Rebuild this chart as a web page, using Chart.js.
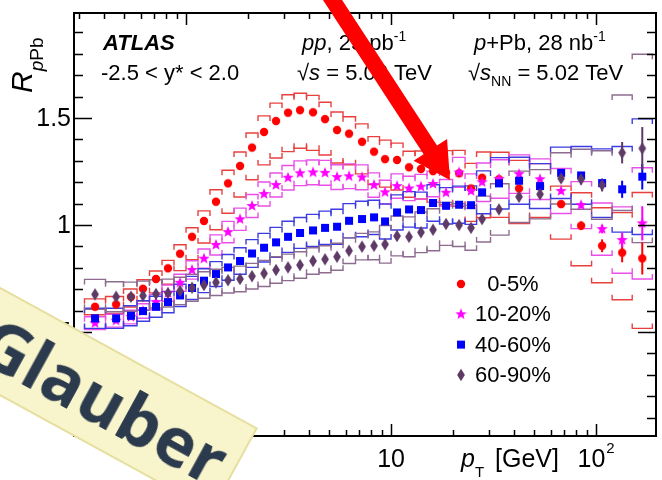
<!DOCTYPE html>
<html>
<head>
<meta charset="utf-8">
<script src="https://cdn.jsdelivr.net/npm/chart.js@4.4.1/dist/chart.umd.min.js"></script>
<style>
  body { margin: 0; background: #fff; }
  #wrap { position: relative; width: 662px; height: 480px; overflow: hidden; }
  #note {
    position: absolute; left: -42px; top: 428px; width: 300px; height: 96px;
    box-sizing: border-box; background: #f8f4cb; border: 2px solid #e7df9f;
    transform-origin: top right; transform: rotate(28.7deg);
    display: flex; align-items: center; justify-content: center;
    padding-left: 4px;
    font: bold 68px "Open Sans", "DejaVu Sans", sans-serif; color: #2b3a4c;
  }
</style>
</head>
<body>
<div id="wrap">
  <canvas id="rppb" width="662" height="480"></canvas>
  <div id="note">Glauber</div>
</div>
<script>
// pT bin centres [GeV]
const ptBins = [0.36, 0.456, 0.539, 0.617, 0.714, 0.817, 0.935, 1.07, 1.224, 1.40,
  1.603, 1.834, 2.099, 2.402, 2.748, 3.145, 3.598, 4.165, 4.765, 5.452,
  6.239, 7.219, 8.26, 9.35, 10.7, 12.24, 14.0, 16.03, 18.55, 21.47,
  24.56, 27.8, 33.6, 42.1, 53.3, 67.5, 84.5, 107, 134, 168];

// R_pPb per centrality class
const r0_5 = [0.618, 0.629, 0.664, 0.702, 0.748, 0.798, 0.866, 0.945, 1.019, 1.109,
  1.195, 1.276, 1.362, 1.435, 1.486, 1.525, 1.537, 1.527, 1.495, 1.444,
  1.427, 1.389, 1.343, 1.308, 1.304, 1.270, 1.262, 1.252, 1.245, 1.242,
  1.171, 1.221, 1.214, 1.171, 1.180, 1.098, 0.997, 0.903, 0.871, 0.844];
const r10_20 = [0.541, 0.553, 0.570, 0.598, 0.640, 0.682, 0.730, 0.790, 0.843, 0.907,
  0.967, 1.027, 1.089, 1.145, 1.187, 1.221, 1.242, 1.246, 1.244, 1.224,
  1.228, 1.223, 1.187, 1.153, 1.182, 1.171, 1.179, 1.192, 1.151, 1.246,
  1.159, 1.200, 1.215, 1.238, 1.214, 1.159, 1.093, 0.981, 0.930, 1.008];
const r40_60 = [0.564, 0.564, 0.576, 0.598, 0.618, 0.640, 0.671, 0.706, 0.740, 0.771,
  0.802, 0.832, 0.867, 0.894, 0.919, 0.945, 0.963, 0.975, 0.987, 0.992,
  1.020, 1.028, 1.036, 1.017, 1.059, 1.073, 1.070, 1.103, 1.090, 1.095,
  1.093, 1.153, 1.195, 1.207, 1.182, 1.244, 1.232, 1.196, 1.167, 1.226];
const r60_90 = [0.676, 0.665, 0.665, 0.670, 0.678, 0.682, 0.692, 0.707, 0.720, 0.732,
  0.742, 0.748, 0.761, 0.774, 0.790, 0.802, 0.813, 0.832, 0.840, 0.852,
  0.880, 0.899, 0.903, 0.910, 0.949, 0.945, 0.966, 0.978, 1.005, 1.000,
  0.987, 1.028, 1.073, 1.132, 1.144, 1.218, 1.214, 1.187, 1.338, 1.358];

// systematic uncertainties (brackets), up / down
const sysUp0_5 = [0.037, 0.037, 0.037, 0.042, 0.037, 0.037, 0.042, 0.042, 0.047, 0.056,
  0.061, 0.065, 0.068, 0.075, 0.084, 0.084, 0.079, 0.079, 0.079, 0.084,
  0.079, 0.084, 0.070, 0.089, 0.079, 0.075, 0.084, 0.093, 0.103, 0.107,
  0.117, 0.120, 0.126, 0.131, 0.107, 0.084, 0.154, 0.178, 0.187, 0.308];
const sysDn0_5 = [0.037, 0.042, 0.047, 0.056, 0.065, 0.075, 0.079, 0.107, 0.103, 0.131,
  0.140, 0.145, 0.150, 0.154, 0.173, 0.182, 0.178, 0.178, 0.168, 0.154,
  0.145, 0.150, 0.154, 0.131, 0.140, 0.140, 0.140, 0.145, 0.150, 0.154,
  0.154, 0.187, 0.178, 0.164, 0.145, 0.164, 0.187, 0.173, 0.220, 0.327];
const sys10_20 = [0.030, 0.030, 0.032, 0.034, 0.036, 0.038, 0.040, 0.043, 0.045, 0.047,
  0.050, 0.052, 0.054, 0.056, 0.056, 0.057, 0.058, 0.058, 0.058, 0.058,
  0.058, 0.058, 0.057, 0.056, 0.057, 0.057, 0.058, 0.060, 0.062, 0.070,
  0.080, 0.090, 0.090, 0.090, 0.095, 0.105, 0.110, 0.122, 0.155, 0.260];
const sys40_60 = [0.047, 0.047, 0.047, 0.048, 0.049, 0.050, 0.052, 0.054, 0.056, 0.058,
  0.060, 0.062, 0.065, 0.067, 0.070, 0.073, 0.072, 0.075, 0.078, 0.082,
  0.080, 0.083, 0.080, 0.082, 0.082, 0.083, 0.084, 0.085, 0.085, 0.087,
  0.090, 0.100, 0.120, 0.110, 0.105, 0.120, 0.135, 0.160, 0.200, 0.270];
const sys60_90 = [0.070, 0.070, 0.068, 0.068, 0.066, 0.065, 0.064, 0.063, 0.062, 0.061,
  0.060, 0.060, 0.060, 0.061, 0.062, 0.062, 0.062, 0.062, 0.063, 0.063,
  0.060, 0.062, 0.065, 0.088, 0.093, 0.093, 0.095, 0.098, 0.100, 0.100,
  0.105, 0.107, 0.120, 0.120, 0.115, 0.120, 0.140, 0.160, 0.270, 0.440];

// statistical uncertainties (vertical bars)
const stat0_5 = [0, 0, 0, 0, 0, 0, 0, 0, 0, 0, 0, 0, 0, 0, 0, 0, 0, 0, 0, 0,
  0, 0, 0, 0, 0, 0, 0, 0, 0, 0, 0, 0, 0, 0.008, 0.008, 0.012, 0.020, 0.030, 0.045, 0.075];
const stat10_20 = [0, 0, 0, 0, 0, 0, 0, 0, 0, 0, 0, 0, 0, 0, 0, 0, 0, 0, 0, 0,
  0, 0, 0, 0, 0, 0, 0, 0, 0, 0, 0, 0, 0, 0, 0.006, 0.012, 0.015, 0.020, 0.035, 0.080];
const stat40_60 = [0, 0, 0, 0, 0, 0, 0, 0, 0, 0, 0, 0, 0, 0, 0, 0, 0, 0, 0, 0,
  0, 0, 0, 0, 0, 0, 0, 0, 0, 0, 0, 0, 0, 0, 0.008, 0.010, 0.015, 0.020, 0.040, 0.060];
const stat60_90 = [0, 0, 0, 0, 0, 0, 0, 0, 0, 0, 0, 0, 0, 0, 0, 0, 0, 0, 0, 0,
  0, 0, 0, 0, 0, 0, 0, 0, 0, 0, 0, 0, 0, 0, 0.010, 0.020, 0.025, 0.030, 0.050, 0.100];

const centLabels = ['0-5%', '10-20%', '40-60%', '60-90%'];
const yTicks = [0.5, 1, 1.5];
const yTickLabels = ['0.5', '1', '1.5'];
const xTicks = [1, 10, 100];
const xTickLabels = [['1', ''], ['10', ''], ['10', '2']];

// marker pictures
function makeMarker(kind, color) {
  const c = document.createElement('canvas');
  c.width = 14; c.height = 14;
  const g = c.getContext('2d');
  g.fillStyle = color;
  g.translate(7, 7);
  g.beginPath();
  if (kind === 'circle') g.arc(0, 0, 4.2, 0, 2 * Math.PI);
  else if (kind === 'square') g.rect(-4, -4, 8, 8);
  else if (kind === 'diamond') { g.moveTo(0, -6.2); g.lineTo(3.9, 0); g.lineTo(0, 6.2); g.lineTo(-3.9, 0); g.closePath(); }
  else {
    for (let k = 0; k < 10; k++) {
      const r = k % 2 ? 2.5 : 6;
      const a = -Math.PI / 2 + k * Math.PI / 5;
      g.lineTo(r * Math.cos(a), r * Math.sin(a));
    }
    g.closePath();
  }
  g.fill();
  return c;
}

const series = [
  { label: centLabels[0], y: r0_5, up: sysUp0_5, dn: sysDn0_5, stat: stat0_5, color: '#ff0000', sysColor: '#e8403f', marker: makeMarker('circle', '#ff0000') },
  { label: centLabels[1], y: r10_20, up: sys10_20, dn: sys10_20, stat: stat10_20, color: '#ff00ff', sysColor: '#e850e8', marker: makeMarker('star', '#ff00ff') },
  { label: centLabels[2], y: r40_60, up: sys40_60, dn: sys40_60, stat: stat40_60, color: '#0000ff', sysColor: '#3c3ce0', marker: makeMarker('square', '#0000ff') },
  { label: centLabels[3], y: r60_90, up: sys60_90, dn: sys60_90, stat: stat60_90, color: '#5e3a66', sysColor: '#8d6c90', marker: makeMarker('diamond', '#5e3a66') }
];

// bin edges: geometric midpoints between centres
const edges = [ptBins[0] / Math.sqrt(ptBins[1] / ptBins[0])];
for (let i = 0; i < ptBins.length - 1; i++) edges.push(Math.sqrt(ptBins[i] * ptBins[i + 1]));
edges.push(ptBins[ptBins.length - 1] * Math.sqrt(ptBins[ptBins.length - 1] / ptBins[ptBins.length - 2]));

const FONT = '"Liberation Sans", Arial, sans-serif';

function richText(ctx, x, y, parts) {
  parts.forEach(p => {
    ctx.font = p.font;
    ctx.fillText(p.t, x, y + (p.dy || 0));
    x += ctx.measureText(p.t).width + (p.gap || 0);
  });
}

const rootStyle = {
  id: 'rootStyle',
  beforeDatasetsDraw(chart) {
    const { ctx, chartArea: a, scales: { x, y } } = chart;
    ctx.save();
    ctx.beginPath();
    ctx.rect(a.left, a.top, a.right - a.left, a.bottom - a.top);
    ctx.clip();
    ctx.lineWidth = 1.4;
    series.forEach(s => {
      ctx.strokeStyle = s.sysColor;
      s.y.forEach((v, i) => {
        const xl = x.getPixelForValue(edges[i]), xr = x.getPixelForValue(edges[i + 1]);
        const yu = y.getPixelForValue(v + s.up[i]), yd = y.getPixelForValue(v - s.dn[i]);
        ctx.beginPath();
        ctx.moveTo(xl, yu + 5); ctx.lineTo(xl, yu); ctx.lineTo(xr, yu); ctx.lineTo(xr, yu + 5);
        ctx.moveTo(xl, yd - 5); ctx.lineTo(xl, yd); ctx.lineTo(xr, yd); ctx.lineTo(xr, yd - 5);
        ctx.stroke();
      });
    });
    ctx.lineWidth = 2;
    series.forEach(s => {
      ctx.strokeStyle = s.color;
      s.y.forEach((v, i) => {
        if (!s.stat[i]) return;
        const px = x.getPixelForValue(ptBins[i]);
        ctx.beginPath();
        ctx.moveTo(px, y.getPixelForValue(v + s.stat[i]));
        ctx.lineTo(px, y.getPixelForValue(v - s.stat[i]));
        ctx.stroke();
      });
    });
    ctx.restore();
  },
  afterDatasetsDraw(chart) {
    const { ctx, chartArea: a, scales: { x, y } } = chart;
    ctx.save();
    ctx.strokeStyle = '#000';
    ctx.fillStyle = '#000';
    // frame
    ctx.lineWidth = 2;
    ctx.strokeRect(a.left, a.top, a.right - a.left, a.bottom - a.top);
    // y ticks, both sides
    ctx.lineWidth = 1.5;
    for (let k = 1; k <= 19; k++) {
      const v = k / 10;
      const py = Math.round(y.getPixelForValue(v)) + 0.5;
      const len = (k % 5 === 0) ? 18 : 9;
      ctx.beginPath();
      ctx.moveTo(a.left, py); ctx.lineTo(a.left + len, py);
      ctx.moveTo(a.right, py); ctx.lineTo(a.right - len, py);
      ctx.stroke();
    }
    // x ticks, log
    for (let d = 0.1; d <= 100; d *= 10) {
      for (let m = 1; m <= 9; m++) {
        const v = m * d;
        if (v < x.min || v > x.max) continue;
        const px = Math.round(x.getPixelForValue(v)) + 0.5;
        const len = m === 1 ? 12 : 6;
        ctx.beginPath();
        ctx.moveTo(px, a.bottom); ctx.lineTo(px, a.bottom - len);
        ctx.moveTo(px, a.top); ctx.lineTo(px, a.top + len);
        ctx.stroke();
      }
    }
    // tick labels
    ctx.font = '25px ' + FONT;
    ctx.textAlign = 'right';
    ctx.textBaseline = 'middle';
    yTicks.forEach((v, i) => ctx.fillText(yTickLabels[i], a.left - 3, y.getPixelForValue(v) + 1));
    ctx.textAlign = 'left';
    ctx.textBaseline = 'alphabetic';
    xTicks.forEach((v, i) => {
      const [base, sup] = xTickLabels[i];
      ctx.font = '25px ' + FONT;
      const wb = ctx.measureText(base).width;
      ctx.font = '15px ' + FONT;
      const ws = sup ? ctx.measureText(sup).width + 1 : 0;
      const x0 = x.getPixelForValue(v) - (wb + ws) / 2;
      ctx.font = '25px ' + FONT;
      ctx.fillText(base, x0, 467);
      if (sup) { ctx.font = '15px ' + FONT; ctx.fillText(sup, x0 + wb + 1, 453); }
    });
    // axis titles
    richText(ctx, 461, 467, [
      { t: 'p', font: 'italic 25px ' + FONT },
      { t: 'T', font: '15px ' + FONT, dy: 10, gap: 11 },
      { t: '[GeV]', font: '25px ' + FONT }
    ]);
    ctx.save();
    ctx.translate(32, 93);
    ctx.rotate(-Math.PI / 2);
    richText(ctx, 0, 0, [
      { t: 'R', font: 'italic 30px ' + FONT },
      { t: 'p', font: 'italic 19px ' + FONT, dy: 11 },
      { t: 'Pb', font: '19px ' + FONT, dy: 11 }
    ]);
    ctx.restore();
    // labels inside the frame
    richText(ctx, 103, 50, [{ t: 'ATLAS', font: 'italic bold 22px ' + FONT }]);
    richText(ctx, 101, 80, [{ t: '-2.5 < y* < 2.0', font: '22px ' + FONT }]);
    richText(ctx, 302, 50, [
      { t: 'pp', font: 'italic 22px ' + FONT },
      { t: ', 25 pb', font: '22px ' + FONT },
      { t: '-1', font: '14px ' + FONT, dy: -9 }
    ]);
    richText(ctx, 297, 80, [
      { t: '\u221A', font: '22px ' + FONT },
      { t: 's', font: 'italic 22px ' + FONT },
      { t: ' = 5.02 TeV', font: '22px ' + FONT }
    ]);
    richText(ctx, 474, 50, [
      { t: 'p', font: 'italic 22px ' + FONT },
      { t: '+Pb, 28 nb', font: '22px ' + FONT },
      { t: '-1', font: '14px ' + FONT, dy: -9 }
    ]);
    richText(ctx, 468, 80, [
      { t: '\u221A', font: '22px ' + FONT },
      { t: 's', font: 'italic 22px ' + FONT },
      { t: 'NN', font: '14px ' + FONT, dy: 6 },
      { t: ' = 5.02 TeV', font: '22px ' + FONT }
    ]);
    // legend
    ctx.textAlign = 'center';
    ctx.textBaseline = 'middle';
    ctx.font = '22px ' + FONT;
    series.forEach((s, i) => {
      const ly = 284 + i * 30.3;
      ctx.drawImage(s.marker, 461 - 7, ly - 7);
      ctx.fillText(s.label, 513, ly + 1);
    });
    // red arrow
    const S = { x: 326, y: -10 }, T = { x: 450, y: 180 };
    const L = Math.hypot(T.x - S.x, T.y - S.y);
    const u = { x: (T.x - S.x) / L, y: (T.y - S.y) / L }, n = { x: -u.y, y: u.x };
    const B = { x: T.x - u.x * 36, y: T.y - u.y * 36 };
    const pt = (p, w) => [p.x + n.x * w, p.y + n.y * w];
    const poly = [pt(S, 8), pt(B, 8), pt(B, 20), [T.x, T.y], pt(B, -20), pt(B, -8), pt(S, -8)];
    ctx.fillStyle = '#ff0000';
    ctx.beginPath();
    poly.forEach((p, i) => i ? ctx.lineTo(p[0], p[1]) : ctx.moveTo(p[0], p[1]));
    ctx.closePath();
    ctx.fill();
    ctx.restore();
  }
};

const ctx = document.getElementById('rppb').getContext('2d');
const rppbChart = new Chart(ctx, {
  type: 'scatter',
  data: {
    datasets: series.map((s, i) => ({
      label: s.label,
      data: ptBins.map((p, j) => ({ x: p, y: s.y[j] })),
      pointStyle: s.marker,
      pointRadius: 5,
      order: 3 - i
    }))
  },
  options: {
    responsive: false,
    animation: false,
    events: [],
    layout: { padding: { left: 74, right: 6, top: 13, bottom: 44 } },
    scales: {
      x: { type: 'logarithmic', min: 0.2843, max: 196, display: false },
      y: { type: 'linear', min: 0.014, max: 1.991, display: false }
    },
    plugins: { legend: { display: false }, tooltip: { enabled: false } }
  },
  plugins: [rootStyle]
});
</script>
</body>
</html>
